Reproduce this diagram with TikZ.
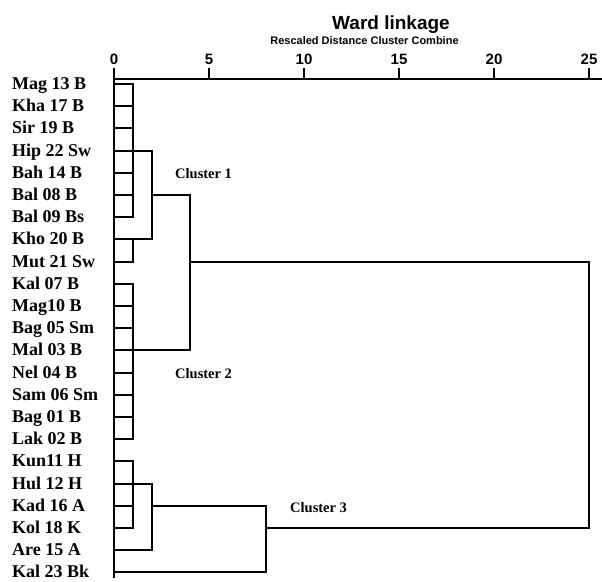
\documentclass[tikz,border=0pt]{standalone}
\usepackage{fontspec}
\setmainfont{Liberation Serif}
\newfontfamily\sansfont{Liberation Sans}
\begin{document}
\begin{tikzpicture}[x=1pt,y=-1pt,
  link/.style={line width=2.1pt, line cap=rect, line join=miter, black},
  leaflabel/.style={anchor=base west, inner sep=0pt, font=\bfseries\fontsize{18}{18}\selectfont},
  ticklabel/.style={anchor=base, inner sep=0pt, font=\sansfont\bfseries\fontsize{15}{15}\selectfont},
  clusterlabel/.style={anchor=base west, inner sep=0pt, font=\bfseries\fontsize{14.5}{14.5}\selectfont},
  titlelabel/.style={anchor=base, inner sep=0pt, font=\sansfont\bfseries\fontsize{19}{19}\selectfont},
  subtitlelabel/.style={anchor=base, inner sep=0pt, font=\sansfont\bfseries\fontsize{11}{11}\selectfont}]
\useasboundingbox[fill=white] (0,0) rectangle (602,581);

% distance levels
\coordinate (a0) at (114,0);
\coordinate (a1) at (133,0);
\coordinate (a2) at (152,0);
\coordinate (a4) at (190,0);
\coordinate (a8) at (266,0);
\coordinate (a25) at (589,0);

% titles
\node[titlelabel] (title) at (391,29.5) {Ward linkage};
\node[subtitlelabel] (subtitle) at (364.5,44) {Rescaled Distance Cluster Combine};

% axis
\coordinate (axl) at (114,79);
\coordinate (axr) at (602,79);
\coordinate (bot) at (114,577);
\draw[link] (axl) -- (axr);
\foreach \v in {0,5,10,15,20,25} {
  \coordinate (tk\v) at ({114+19*\v},79);
  \draw[link] (tk\v) -- ++(0,-10);
  \node[ticklabel] (n\v) at ({114+19*\v},64) {\v};
}
\draw[link] (axl) -- (bot);

% leaves
\foreach \t [count=\i from 0] in {Mag 13 B, Kha 17 B, Sir 19 B, Hip 22 Sw, Bah 14 B, Bal 08 B, Bal 09 Bs, Kho 20 B, Mut 21 Sw, Kal 07 B, Mag10 B, Bag 05 Sm, Mal 03 B, Nel 04 B, Sam 06 Sm, Bag 01 B, Lak 02 B, Kun11 H, Hul 12 H, Kad 16 A, Kol 18 K, Are 15 A, Kal 23 Bk} {
  \coordinate (l\i) at (114,{84+22.2*\i});
  \node[leaflabel] (t\i) at (12,{84+22.2*\i+5.5}) {\t};
}

\foreach \i in {0,...,20} \draw[link] (l\i) -- (l\i -| a1);
\draw[link] (l21) -- (l21 -| a2);
\draw[link] (l22) -- (l22 -| a8);

% cluster 1
\draw[link] (l0 -| a1) -- (l6 -| a1);
\draw[link] (l3 -| a1) -- (l3 -| a2);
\draw[link] (l7 -| a1) -- (l8 -| a1);
\draw[link] (l7 -| a1) -- (l7 -| a2);
\draw[link] (l3 -| a2) -- (l7 -| a2);
\draw[link] (l5 -| a2) -- (l5 -| a4);
% cluster 2
\draw[link] (l9 -| a1) -- (l16 -| a1);
\draw[link] (l12 -| a1) -- (l12 -| a4);
\draw[link] (l5 -| a4) -- (l12 -| a4);
\draw[link] (l8 -| a4) -- (l8 -| a25);
% cluster 3
\draw[link] (l17 -| a1) -- (l20 -| a1);
\draw[link] (l18 -| a1) -- (l18 -| a2);
\draw[link] (l18 -| a2) -- (l21 -| a2);
\draw[link] (l19 -| a2) -- (l19 -| a8);
\draw[link] (l19 -| a8) -- (l22 -| a8);
\draw[link] (l20 -| a8) -- (l20 -| a25);
% root
\draw[link] (l8 -| a25) -- (l20 -| a25);

% cluster labels
\node[clusterlabel] (c1) at (175,178.5) {Cluster 1};
\node[clusterlabel] (c2) at (175,378) {Cluster 2};
\node[clusterlabel] (c3) at (290,512.5) {Cluster 3};
\end{tikzpicture}
\end{document}
